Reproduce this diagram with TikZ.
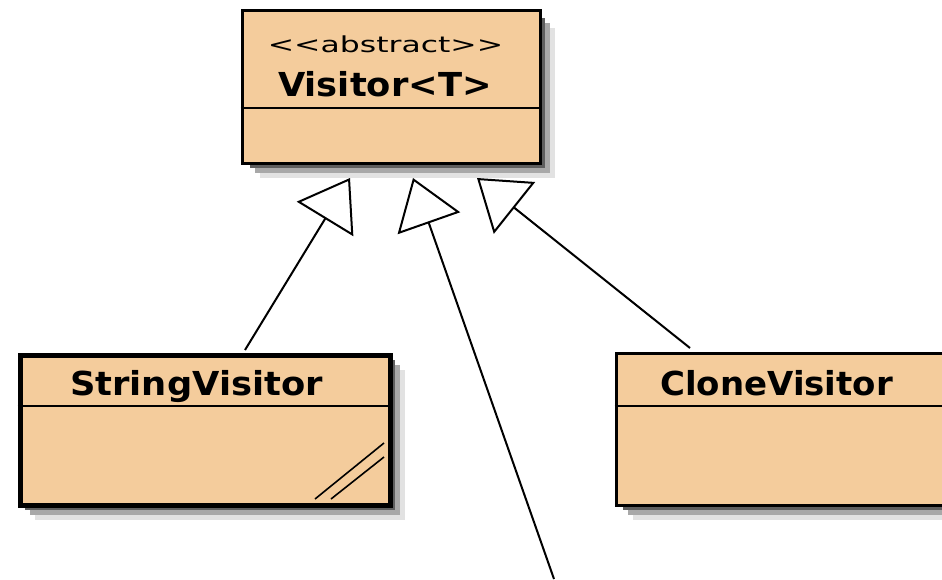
\documentclass[tikz,border=0pt]{standalone}
\usepackage{fontspec}
\setmainfont{DejaVu Sans}
\usetikzlibrary{arrows.meta,calc}
\definecolor{classfill}{HTML}{F4CC9C}
\definecolor{shA}{HTML}{5E5E5E}
\definecolor{shB}{HTML}{A8A8A8}
\definecolor{shC}{HTML}{E2E2E2}
\begin{document}
\begin{tikzpicture}[x=1pt,y=-1pt,
  classbox/.style={draw=black, fill=classfill, line width=3pt, inner sep=0pt, anchor=north west},
  divider/.style={draw=black, line width=2.5pt},
  nametext/.style={anchor=base, inner sep=0pt, font=\fontsize{33}{38}\selectfont\bfseries},
  stereotext/.style={anchor=base, inner sep=0pt, font=\fontsize{22}{26}\selectfont},
  inherit/.style={draw=black, line width=2pt, -{Triangle[open, length=48pt, width=66pt, line width=2pt]}},
  hatch/.style={draw=black, line width=1.6pt}
]
\useasboundingbox (0,0) rectangle (942,579);
\fill[white] (0,0) rectangle (942,579);

% shadows
\fill[shC] (260,28) rectangle (555,178);
\fill[shB] (255,23) rectangle (550,173);
\fill[shA] (250,18) rectangle (545,168);
\fill[shC] (35,370) rectangle (405,520);
\fill[shB] (30,365) rectangle (400,515);
\fill[shA] (25,360) rectangle (395,510);
\fill[shC] (633,370) rectangle (960,520);
\fill[shB] (628,365) rectangle (960,515);
\fill[shA] (623,360) rectangle (960,510);

% class boxes
\node[classbox, minimum width=298pt, minimum height=153pt] (v) at (240.5,8.5) {};
\draw[divider] (v.west |- 0,108) -- (v.east |- 0,108);
\node[stereotext] (vst) at (385.5,52) {\scalebox{1.43}[1]{<\kern0pt<abstract>\kern0pt>}};
\node[nametext] (vname) at (385,96) {\scalebox{1.07}[1]{Visitor<T>}};

\node[classbox, line width=5pt, minimum width=370pt, minimum height=150pt] (sv) at (17.5,352.5) {};
\draw[divider] (sv.west |- 0,406) -- (sv.east |- 0,406);
\node[nametext] (svname) at (196.5,395) {\scalebox{1.07}[1]{StringVisitor}};
\draw[hatch] (315,499) -- (384,443);
\draw[hatch] (331,499) -- (384,457);

\node[classbox, minimum width=360pt, minimum height=152pt] (cv) at (614.5,351.5) {};
\draw[divider] (cv.west |- 0,406) -- (cv.east |- 0,406);
\node[nametext] (cvname) at (776.5,395) {\scalebox{1.03}[1]{CloneVisitor}};

% inheritance connectors
\coordinate (t1) at (350,178);
\coordinate (t2) at (413,178);
\coordinate (t3) at (477,178);
\coordinate (s1) at (245,350);
\coordinate (s2) at (554,579);
\coordinate (s3) at (690,348);
\draw[inherit] (s1) -- (t1);
\draw[inherit] (s2) -- (t2);
\draw[inherit] (s3) -- (t3);
\end{tikzpicture}
\end{document}
